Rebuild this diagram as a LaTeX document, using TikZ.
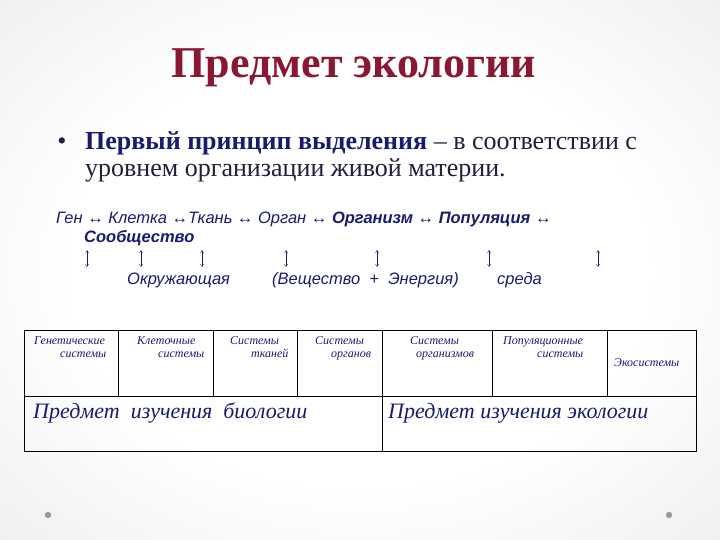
\documentclass[tikz,border=0pt]{standalone}
\usepackage{fontspec}
\setmainfont{Liberation Serif}
\setsansfont{Liberation Sans}
\usetikzlibrary{arrows.meta}
\definecolor{titlered}{HTML}{8B1832}
\definecolor{navy}{HTML}{1A1A6E}
\definecolor{bodytext}{HTML}{20203A}
\pgfdeclareradialshading{slidebg}{\pgfpoint{0bp}{0bp}}{color(0bp)=(white); color(20bp)=(white); color(36bp)=(gray!12); color(50bp)=(gray!30); color(72bp)=(gray!38)}
\begin{document}
\begin{tikzpicture}[x=1pt,y=-1pt,
    chain/.style={font=\sffamily\itshape\fontsize{16.5}{18}\selectfont,text=navy,anchor=base west,inner sep=0pt},
    cell/.style={font=\itshape\fontsize{12}{13}\selectfont,text=navy,anchor=base west,inner sep=0pt},
    subj/.style={font=\itshape\fontsize{22}{24}\selectfont,text=navy,anchor=base west,inner sep=0pt}]
  % slide background
  \shade[shading=slidebg] (0,0) rectangle (720,540);
  \useasboundingbox (0,0) rectangle (720,540);
  \fill[gray!80] (48,515) circle (3.2) (669,515) circle (3.2);

  \node[font=\bfseries\fontsize{44}{48}\selectfont,text=titlered,anchor=base] (title) at (354,78) {Предмет экологии};
  \node[font=\fontsize{26}{28}\selectfont,text=bodytext,anchor=base] (bul) at (62,150) {•};
  \node[font=\fontsize{26}{28}\selectfont,text=bodytext,anchor=base west,inner sep=0pt] (line1) at (85,150)
    {\textcolor{navy}{\bfseries Первый принцип выделения} – в соответствии с};
  \node[font=\fontsize{26}{28}\selectfont,text=bodytext,anchor=base west,inner sep=0pt] (line2) at (85,177)
    {уровнем организации живой материи.};

  % chain of levels
  \node[chain] (levels) at (56,224) {Ген ↔ Клетка ↔Ткань ↔ Орган ↔ \textbf{Организм} ↔ \textbf{Популяция} ↔};
  \node[chain,font=\sffamily\itshape\bfseries\fontsize{16.5}{18}\selectfont] (comm) at (84,242) {Сообщество};
  \foreach \x in {87,141,202,286,377,489,598}
    \draw[navy,thin,{Straight Barb[length=2.5pt,width=3pt]}-{Straight Barb[length=2.5pt,width=3pt]}] (\x,250) -- (\x,267);
  \node[chain] (env1) at (127,284) {Окружающая};
  \node[chain] (env2) at (272,284) {(Вещество \ + \ Энергия)};
  \node[chain] (env3) at (497,284) {среда};

  % table
  \draw[thick] (24,330) rectangle (696,451);
  \draw[thick] (24,396) -- (696,396);
  \foreach \x in {118,213,297,382,492,607}
    \draw[thick] (\x,330) -- (\x,396);
  \draw[thick] (382,396) -- (382,451);

  \node[cell] (gen1) at (34,344) {Генетические};
  \node[cell] (gen2) at (60,357) {системы};
  \node[cell] (cel1) at (137,344) {Клеточные};
  \node[cell] (cel2) at (158,357) {системы};
  \node[cell] (tis1) at (230,344) {Системы};
  \node[cell] (tis2) at (251,357) {тканей};
  \node[cell] (org1) at (315,344) {Системы};
  \node[cell] (org2) at (331,357) {органов};
  \node[cell] (ism1) at (410,344) {Системы};
  \node[cell] (ism2) at (416,357) {организмов};
  \node[cell] (pop1) at (503,344) {Популяционные};
  \node[cell] (pop2) at (537,357) {системы};
  \node[cell] (eco) at (614,366) {Экосистемы};

  \node[subj] (bio) at (33,418) {Предмет \ изучения \ биологии};
  \node[subj] (ecol) at (388,418) {Предмет изучения экологии};
\end{tikzpicture}
\end{document}
